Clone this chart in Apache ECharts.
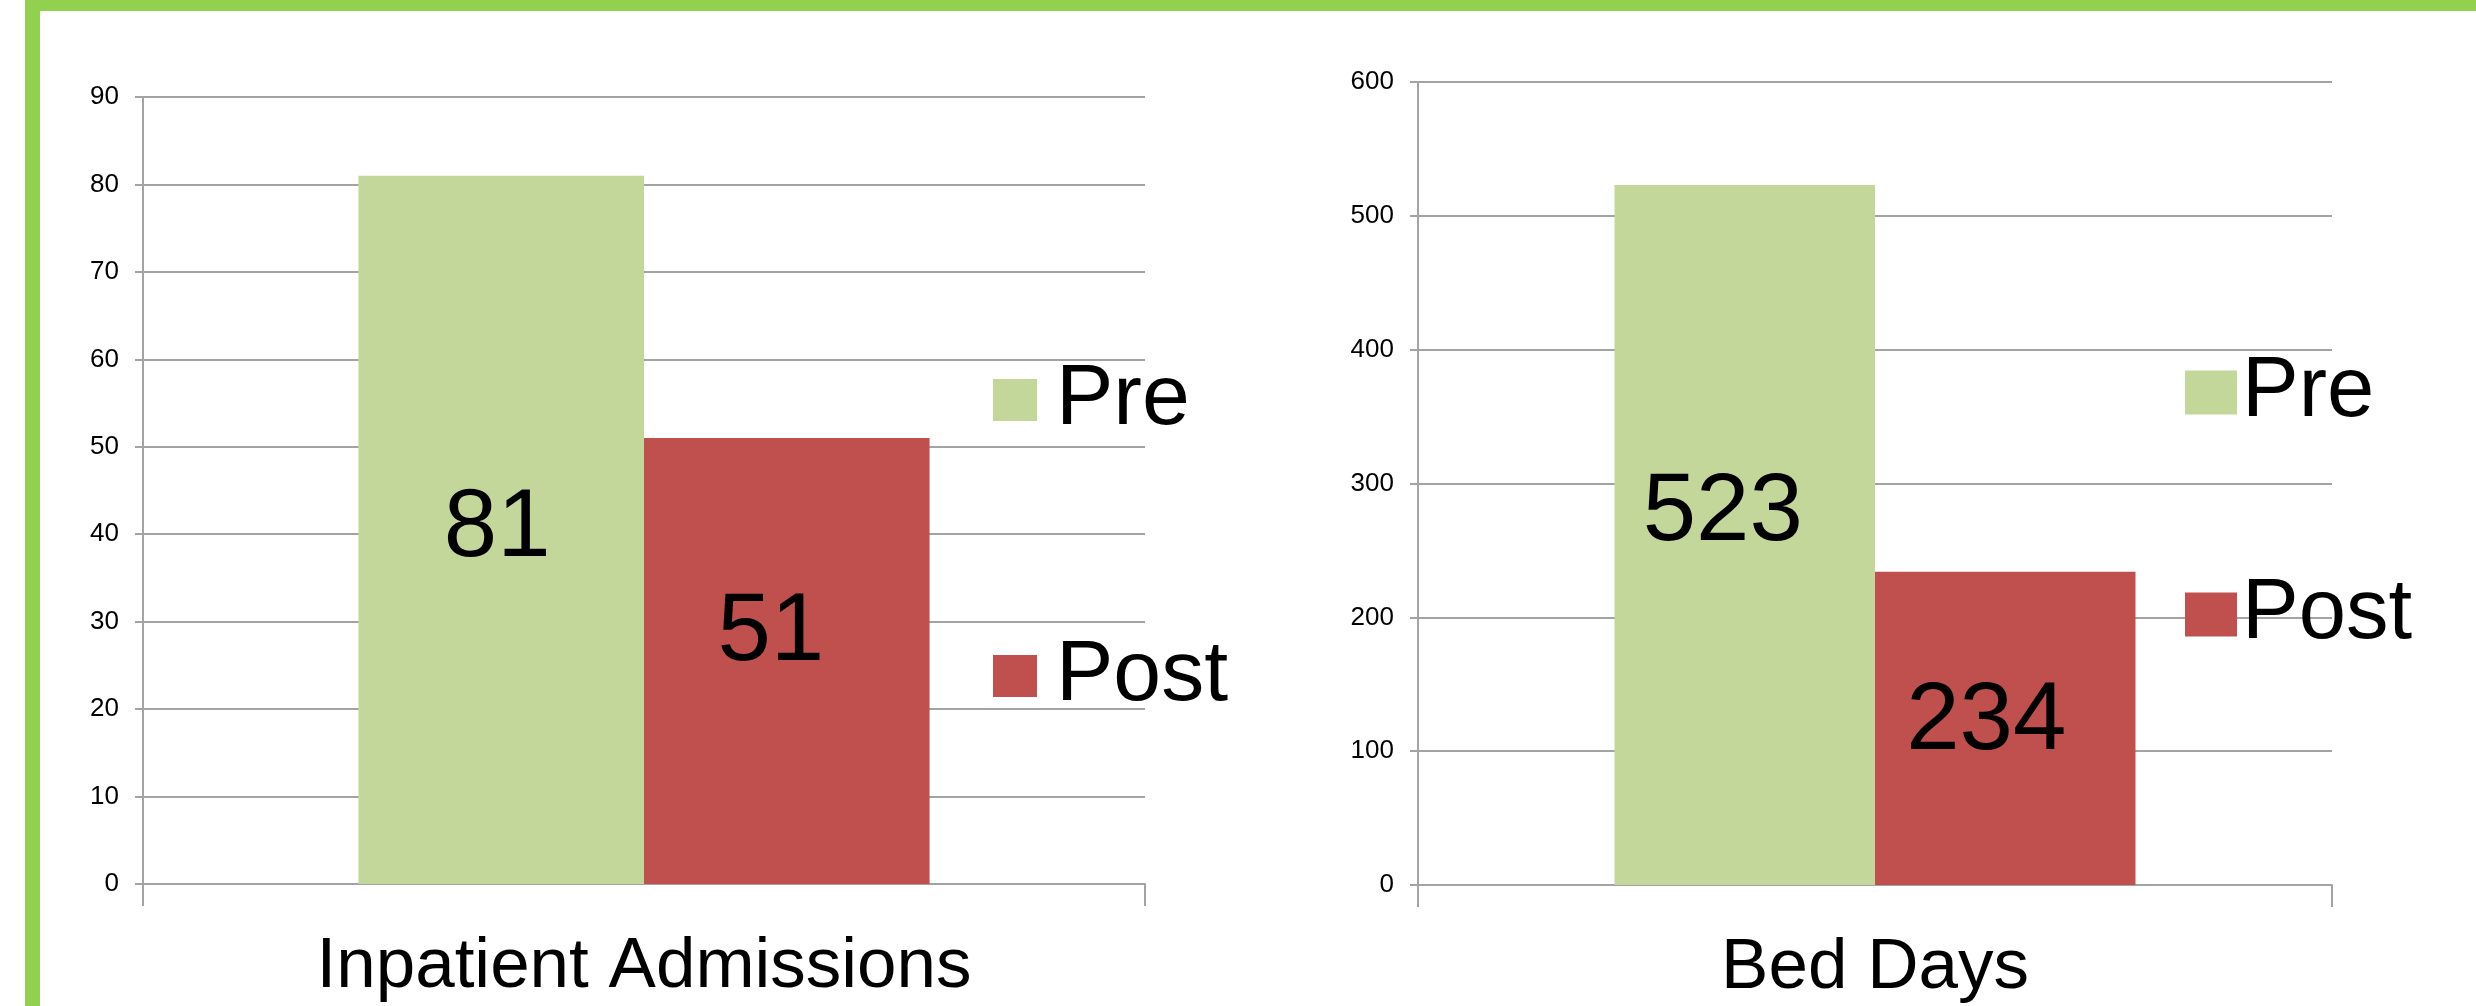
<!DOCTYPE html>
<html>
<head>
<meta charset="utf-8">
<style>
  html, body { margin: 0; padding: 0; background: #fff; }
  #chart { width: 2476px; height: 1006px; }
</style>
<script src="https://cdn.jsdelivr.net/npm/echarts@6/dist/echarts.min.js"></script>
</head>
<body>
<div id="chart"></div>
<script>
// data
const seriesNames = ['Pre', 'Post']
const leftCategory = ['Inpatient Admissions']
const rightCategory = ['Bed Days']
const admissionsPre = [81]
const admissionsPost = [51]
const bedDaysPre = [523]
const bedDaysPost = [234]

const FONT = "'Liberation Sans', Arial, Helvetica, sans-serif"
const GREEN = '#C4D79B'
const RED = '#C0504D'
const GRID_GRAY = '#A3A3A3'

const chart = echarts.init(document.getElementById('chart'), null, { renderer: 'canvas' })

function valueAxis(gridIndex, max, interval) {
  return {
    type: 'value',
    gridIndex,
    min: 0,
    max,
    interval,
    axisLine: { show: true, lineStyle: { color: GRID_GRAY, width: 2 } },
    axisTick: { show: true, length: 8, lineStyle: { color: GRID_GRAY, width: 2 } },
    splitLine: { show: true, lineStyle: { color: GRID_GRAY, width: 2 } },
    axisLabel: { color: '#000', fontSize: 26, fontFamily: FONT, margin: 24 }
  }
}

function categoryAxis(gridIndex, data) {
  return {
    type: 'category',
    gridIndex,
    data,
    axisLine: { show: true, lineStyle: { color: GRID_GRAY, width: 2 } },
    axisTick: { show: true, length: 22, lineStyle: { color: GRID_GRAY, width: 2 } },
    axisLabel: { color: '#000', fontSize: 71, fontFamily: FONT, margin: 48 }
  }
}

function barSeries(name, idx, data, color, offset) {
  return {
    name,
    type: 'bar',
    xAxisIndex: idx,
    yAxisIndex: idx,
    data,
    barGap: '0%',
    barCategoryGap: '43%',
    itemStyle: { color },
    label: {
      show: true,
      position: 'inside',
      color: '#000',
      fontSize: 96,
      fontFamily: FONT,
      offset
    }
  }
}

const option = {
  animation: false,
  backgroundColor: '#fff',
  graphic: [
    { type: 'rect', left: 25, top: 0, shape: { width: 15, height: 1006 }, style: { fill: '#92D050' } },
    { type: 'rect', left: 25, top: 0, shape: { width: 2451, height: 11 }, style: { fill: '#92D050' } }
  ],
  grid: [
    { left: 143, right: 1331, top: 97, bottom: 122 },
    { left: 1418, right: 144, top: 82, bottom: 121 }
  ],
  legend: [
    {
      data: seriesNames,
      orient: 'vertical',
      left: 988,
      top: 352,
      itemWidth: 44,
      itemHeight: 42,
      itemGap: 190,
      icon: 'rect',
      textStyle: { color: '#000', fontSize: 86, fontFamily: FONT, padding: [0, 0, 0, 14] }
    },
    {
      data: seriesNames,
      orient: 'vertical',
      left: 2180,
      top: 345,
      itemWidth: 52,
      itemHeight: 44,
      itemGap: 137,
      icon: 'rect',
      textStyle: { color: '#000', fontSize: 85, fontFamily: FONT }
    }
  ],
  xAxis: [categoryAxis(0, leftCategory), categoryAxis(1, rightCategory)],
  yAxis: [valueAxis(0, 90, 10), valueAxis(1, 600, 100)],
  series: [
    barSeries(seriesNames[0], 0, admissionsPre, GREEN, [-4, 0]),
    barSeries(seriesNames[1], 0, admissionsPost, RED, [-16, -27]),
    barSeries(seriesNames[0], 1, bedDaysPre, GREEN, [-22, -21]),
    barSeries(seriesNames[1], 1, bedDaysPost, RED, [-19, -6])
  ]
}

chart.setOption(option)
</script>
</body>
</html>
